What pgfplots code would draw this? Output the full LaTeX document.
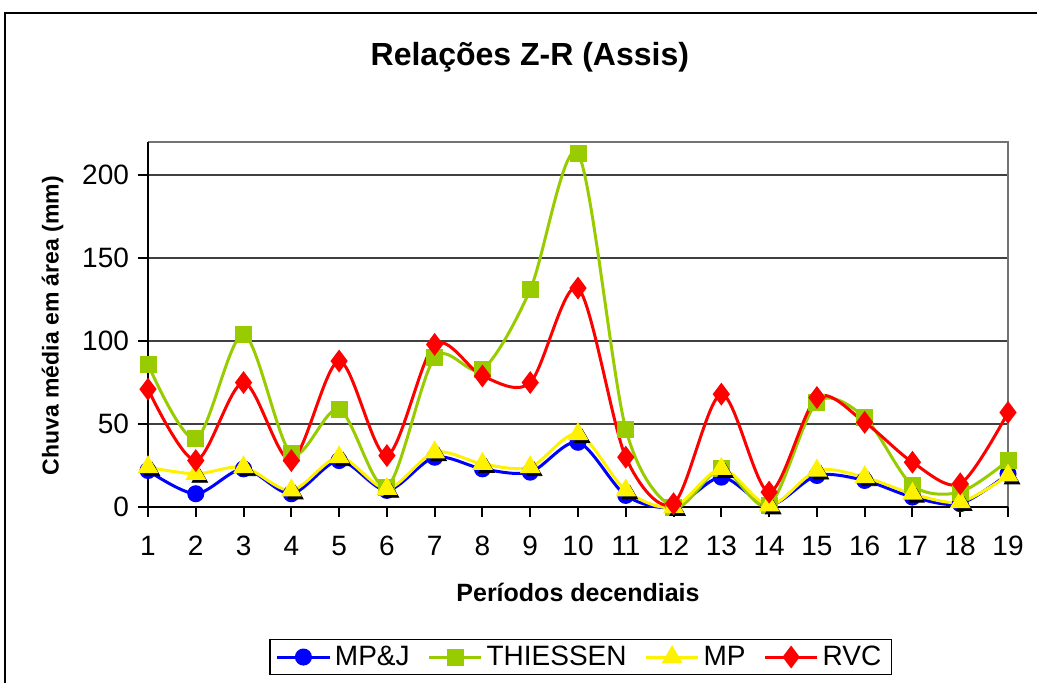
\documentclass[border=0pt]{standalone}
\usepackage{pgfplots}
\pgfplotsset{compat=1.18}
\usepackage{fontspec}
\setmainfont{Liberation Sans}
\definecolor{lime}{RGB}{153,204,0}
\begin{document}
\begin{tikzpicture}
\useasboundingbox (0,0) rectangle (518.5pt,-341pt);
\draw[black, line width=0.8pt] (2.5pt,-6.5pt) rectangle (525pt,-350pt);
\begin{axis}[
  at={(74pt,-253.5pt)}, anchor=south west,
  scale only axis, width=430pt, height=182.5pt,
  xmin=1, xmax=19, ymin=0, ymax=220,
  xtick={1,...,19}, ytick={0,50,100,150,200},
  /pgf/number format/assume math mode=true,
  tick label style={font=\fontsize{14}{16}\selectfont},
  xticklabel style={yshift=-6pt},
  yticklabel style={xshift=-1pt},
  axis line style={draw=none},
  ymajorgrids, grid style={black!75, line width=0.8pt},
  major tick length=5pt,
  tick style={black, line width=1pt},
  xtick pos=bottom, ytick pos=left,
  tick align=outside,
  clip=false,
  legend style={at={(0.503,-0.411)}, anchor=center, draw=black, line width=0.6pt,
    legend columns=4, font=\fontsize{14}{16}\selectfont,
    inner ysep=1pt, inner xsep=3pt,
    /tikz/every even column/.append style={column sep=7pt}},
  legend image code/.code={
    \draw[mark repeat=2,mark phase=2] plot coordinates {(0pt,0pt) (13pt,0pt) (26pt,0pt)};},
]
\draw[black!55, line width=1pt] (axis cs:1,220) -- (axis cs:19,220) -- (axis cs:19,0);
\draw[black, line width=1.2pt] (axis cs:1,0) -- (axis cs:1,220);
\draw[black, line width=1.2pt] (axis cs:1,0) -- (axis cs:19,0);

\addplot[blue, line width=1.5pt, smooth, mark=*, mark size=3.5pt, mark options={solid}] coordinates {
(1,22) (2,8) (3,23) (4,8) (5,28) (6,10) (7,30) (8,23) (9,21) (10,39) (11,7) (12,0) (13,18) (14,1) (15,19) (16,16) (17,6) (18,2) (19,20)};
\addlegendentry{MP\&J}
\addplot[lime, line width=1.5pt, smooth, mark=square*, mark size=3.5pt] coordinates {
(1,86) (2,41) (3,104) (4,32) (5,59) (6,12) (7,90) (8,83) (9,131) (10,213) (11,47) (12,0) (13,23) (14,1) (15,63) (16,54) (17,13) (18,9) (19,28)};
\addlegendentry{THIESSEN}
\addplot[black, only marks, mark=triangle*, mark size=4.5pt, mark options={xshift=2pt,yshift=-2pt}, forget plot] coordinates {
(1,24) (2,20) (3,24) (4,10) (5,30) (6,11) (7,33) (8,26) (9,24) (10,44) (11,10) (12,0) (13,23) (14,1) (15,22) (16,18) (17,8) (18,3) (19,19)};
\addplot[yellow, line width=1.5pt, smooth, mark=triangle*, mark size=4.5pt] coordinates {
(1,24) (2,20) (3,24) (4,10) (5,30) (6,11) (7,33) (8,26) (9,24) (10,44) (11,10) (12,0) (13,23) (14,1) (15,22) (16,18) (17,8) (18,3) (19,19)};
\addlegendentry{MP}
\addplot[red, line width=1.5pt, smooth, mark=diamond*, mark size=4.5pt] coordinates {
(1,71) (2,28) (3,75) (4,28) (5,88) (6,31) (7,98) (8,79) (9,75) (10,132) (11,30) (12,2) (13,68) (14,9) (15,66) (16,51) (17,27) (18,14) (19,57)};
\addlegendentry{RVC}

\node[font=\bfseries\fontsize{16}{19}\selectfont] at (axis description cs:0.444,1.233) {Relações Z-R (Assis)};
\node[font=\bfseries\fontsize{12.5}{15}\selectfont] at (axis description cs:0.5,-0.233) {Períodos decendiais};
\node[font=\bfseries\fontsize{11.5}{13}\selectfont, rotate=90] at (axis description cs:-0.111,0.497) {Chuva média em área (mm)};
\end{axis}
\end{tikzpicture}
\end{document}
